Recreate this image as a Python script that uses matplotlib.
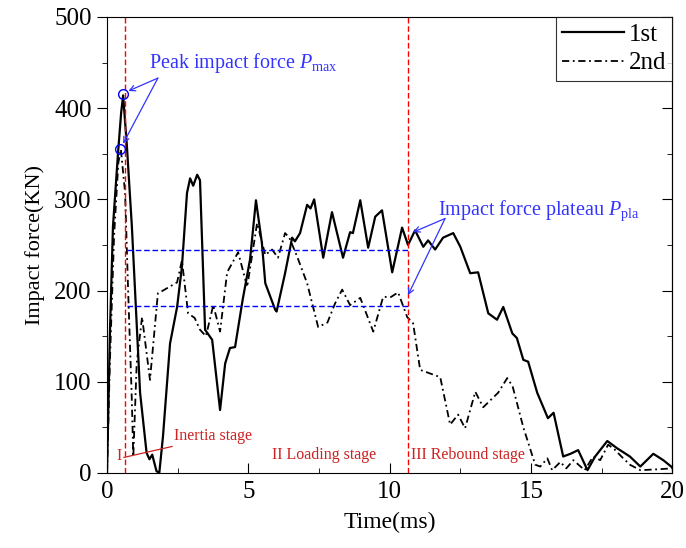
import matplotlib

matplotlib.use("Agg")
import matplotlib.pyplot as plt
from matplotlib.ticker import MultipleLocator

# 1st impact (solid)
t1 = [0, 0.1, 0.21, 0.39, 0.5, 0.57, 0.7, 0.88, 1.17, 1.4, 1.5, 1.6, 1.75, 1.85, 1.98,
      2.23, 2.48, 2.65, 2.83, 2.94, 3.05, 3.19, 3.29, 3.47, 3.72, 4.0, 4.18, 4.35, 4.53,
      4.8, 5.06, 5.27, 5.48, 5.6, 5.95, 6.0, 6.3, 6.55, 6.65, 6.83, 7.08, 7.2, 7.33, 7.65,
      7.96, 8.35, 8.6, 8.7, 8.96, 9.24, 9.49, 9.73, 10.09, 10.44, 10.65, 10.9, 11.19,
      11.36, 11.61, 11.89, 12.25, 12.5, 12.85, 13.13, 13.49, 13.8, 14.02, 14.34, 14.5,
      14.73, 14.9, 15.22, 15.6, 15.8, 16.14, 16.4, 16.67, 17.0, 17.27, 17.7, 18.05, 18.5,
      18.87, 19.33, 19.68, 20]
f1 = [0, 150, 270, 351, 395, 414, 360, 270, 88, 22, 15, 20, 2, 0, 40,
      142, 182, 226, 307, 323, 315, 327, 321, 157, 146, 69, 120, 137, 138,
      190, 234, 299, 252, 208, 179, 177, 219, 258, 254, 263, 294, 290, 300, 236,
      286, 236, 264, 263, 299, 247, 281, 288, 220, 269, 250, 266, 248,
      255, 245, 258, 263, 248, 219, 220, 175, 168, 182, 153, 148,
      124, 122, 88, 60, 66, 18, 21, 25, 3, 18, 35, 27, 18,
      7, 21, 14, 6]

# 2nd impact (dash-dot)
t2 = [0, 0.1, 0.25, 0.4, 0.49, 0.64, 0.75, 0.87, 0.93, 1.05, 1.24, 1.52, 1.8, 1.98, 2.48,
      2.65, 2.87, 3.1, 3.29, 3.5, 3.76, 4.0, 4.25, 4.64, 4.96, 5.31, 5.6, 5.84, 6.05, 6.3,
      6.45, 6.73, 7.08, 7.47, 7.8, 8.07, 8.32, 8.6, 8.96, 9.42, 9.77, 10.05, 10.3, 10.62,
      10.83, 11.08, 11.79, 12.14, 12.42, 12.67, 13.03, 13.31, 13.84, 14.16, 14.35, 14.73,
      15.15, 15.33, 15.58, 15.75, 16.04, 16.25, 16.5, 16.9, 17.2, 17.45, 17.73, 17.95,
      18.2, 18.5, 18.87, 19.5, 20]
f2 = [0, 120, 260, 340, 355, 307, 197, 88, 18, 120, 171, 102, 197, 200, 209,
      233, 175, 170, 157, 150, 184, 155, 220, 242, 204, 274, 239, 245, 236, 263,
      258, 237, 208, 160, 165, 186, 201, 184, 192, 155, 193, 193, 198, 171,
      164, 113, 105, 53, 64, 49, 89, 72, 88, 104, 95, 50,
      9, 7, 16, 3, 12, 5, 14, 3, 18, 14, 31, 26,
      18, 9, 3, 4, 5]

stage_bounds = [0.64, 10.65]
plateau_levels = [245, 183]
peaks_t = [0.57, 0.45]
peaks_f = [415, 355]

plt.rcParams["font.family"] = ["Liberation Serif", "DejaVu Serif"]
plt.rcParams["mathtext.fontset"] = "custom"
plt.rcParams["mathtext.rm"] = "Liberation Serif"
plt.rcParams["mathtext.it"] = "Liberation Serif:italic"

fig = plt.figure(figsize=(6.86, 5.48), dpi=100)
ax = fig.add_axes([0.156, 0.137, 0.824, 0.832])

ax.plot(t1, f1, color="black", lw=1.6, label="1st")
ax.plot(t2, f2, color="black", lw=1.3, linestyle=(0, (4, 2, 1, 2)), label="2nd")

for xb in stage_bounds:
    ax.axvline(xb, color="red", lw=1.0, ls=(0, (4, 2)))
for lv in plateau_levels:
    ax.plot([0.7, stage_bounds[1]], [lv, lv], color="blue", lw=1.0, ls=(0, (4, 2)))

ax.plot(peaks_t, peaks_f, "o", ms=7, mfc="none", mec="blue", mew=1.0)

blue = "#3333ff"
ax.text(1.5, 450, r"Peak impact force $P_{\rm max}$", color=blue, fontsize=14.5, va="center")
for px, py in zip(peaks_t, peaks_f):
    ax.annotate("", xy=(px + 0.05, py + 2), xytext=(1.8, 433),
                arrowprops=dict(arrowstyle="->", color=blue, lw=0.9, shrinkA=0, shrinkB=3))

ax.text(11.7, 287, r"Impact force plateau $P_{\rm pla}$", color=blue, fontsize=14.5, va="center")
for ex, ey in [(10.83, 264), (10.65, 195)]:
    ax.annotate("", xy=(ex, ey), xytext=(11.96, 279),
                arrowprops=dict(arrowstyle="->", color=blue, lw=0.9, shrinkA=0, shrinkB=0))

red = "#cc2222"
ax.text(0.33, 19, "I", color=red, fontsize=11.5, va="center")
ax.plot([0.6, 2.3], [17, 29], color=red, lw=0.9)
ax.text(2.38, 40, "Inertia stage", color=red, fontsize=11.5, va="center")
ax.text(5.84, 20, "II Loading stage", color=red, fontsize=11.5, va="center")
ax.text(10.76, 20, "III Rebound stage", color=red, fontsize=11.5, va="center")

ax.set_xlim(0, 20)
ax.set_ylim(0, 500)
ax.xaxis.set_major_locator(MultipleLocator(5))
ax.xaxis.set_minor_locator(MultipleLocator(2.5))
ax.yaxis.set_major_locator(MultipleLocator(100))
ax.yaxis.set_minor_locator(MultipleLocator(50))
ax.tick_params(axis="x", which="both", direction="in", labelsize=18, pad=6)
ax.tick_params(axis="x", which="major", length=7)
ax.tick_params(axis="x", which="minor", length=3.5)
ax.tick_params(axis="y", which="both", direction="out", labelsize=18, pad=4)
ax.tick_params(axis="y", which="major", length=7)
ax.tick_params(axis="y", which="minor", length=3.5)

sec = ax.secondary_yaxis("right")
sec.yaxis.set_major_locator(MultipleLocator(100))
sec.yaxis.set_minor_locator(MultipleLocator(50))
sec.tick_params(which="both", direction="in", labelright=False)
sec.tick_params(which="major", length=7)
sec.tick_params(which="minor", length=3.5)

ax.set_xlabel("Time(ms)", fontsize=17, labelpad=6)
ax.set_ylabel("Impact force(KN)", fontsize=16, labelpad=7)

leg = ax.legend(loc="upper right", fontsize=18, frameon=True, fancybox=False,
                borderaxespad=0, handlelength=2.45, handletextpad=0.2, borderpad=0.25,
                labelspacing=0.25)
leg.get_frame().set_edgecolor("black")
leg.get_frame().set_linewidth(0.8)

fig.savefig("out.png", dpi=100)
